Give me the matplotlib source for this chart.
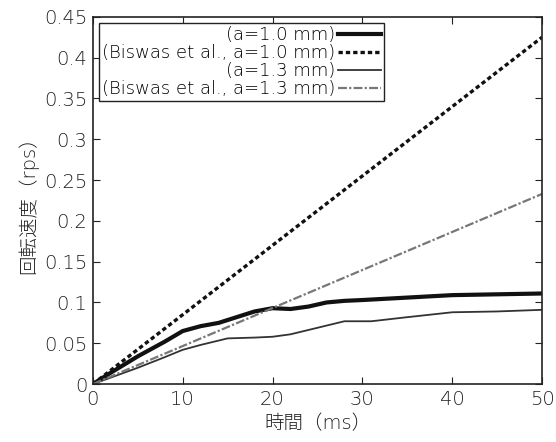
import numpy as np
import matplotlib
matplotlib.use("Agg")
import matplotlib.pyplot as plt

plt.rcParams['font.family'] = ['DejaVu Sans', 'Noto Sans CJK JP']

# measured, a=1.0 mm
t_a10 = [0, 2, 5, 8, 10, 12, 14, 16, 18, 20, 22, 24, 26, 28, 30, 35, 40, 45, 50]
w_a10 = [0, 0.014, 0.034, 0.052, 0.065, 0.071, 0.075, 0.082, 0.089, 0.093,
         0.092, 0.095, 0.100, 0.102, 0.103, 0.106, 0.109, 0.110, 0.111]
# measured, a=1.3 mm
t_a13 = [0, 2, 5, 8, 10, 12, 15, 18, 20, 22, 25, 28, 31, 35, 40, 45, 50]
w_a13 = [0, 0.008, 0.020, 0.033, 0.042, 0.048, 0.056, 0.057, 0.058, 0.061,
         0.069, 0.077, 0.077, 0.082, 0.088, 0.089, 0.091]
# Biswas et al. (linear)
t_bis = [0, 50]
w_bis10 = [0, 0.425]
w_bis13 = [0, 0.233]

labels = ["(a=1.0 mm)", "(Biswas et al., a=1.0 mm)",
          "(a=1.3 mm)", "(Biswas et al., a=1.3 mm)"]

fig = plt.figure(figsize=(5.56, 4.42), dpi=100)
ax = fig.add_axes([0.167, 0.131, 0.808, 0.831])

ax.plot(t_a10, w_a10, color='#111111', lw=3.0, label=labels[0])
ax.plot(t_bis, w_bis10, color='#111111', lw=2.4, ls=(0, (1.3, 0.9)), label=labels[1])
ax.plot(t_a13, w_a13, color='#333333', lw=1.3, label=labels[2])
ax.plot(t_bis, w_bis13, color='#777777', lw=1.6, ls=(0, (4, 1, 1, 1)), label=labels[3])

ax.set_xlim(0, 50)
ax.set_ylim(0, 0.45)
ax.set_xticks([0, 10, 20, 30, 40, 50])
ax.set_yticks(np.arange(0, 0.451, 0.05))
ax.set_yticklabels(['0', '0.05', '0.1', '0.15', '0.2', '0.25', '0.3', '0.35', '0.4', '0.45'])
ax.tick_params(direction='in', top=True, right=True, labelsize=14, length=5,
               colors='#222222', pad=4)
for lab in ax.get_xticklabels() + ax.get_yticklabels():
    lab.set_fontweight('light')
for s in ax.spines.values():
    s.set_linewidth(1.2)
    s.set_color('#222222')

ax.set_xlabel('時間（ms）', fontsize=14, color='#222222', fontweight='light')
ax.set_ylabel('回転速度（rps）', fontsize=14, color='#222222', fontweight='light')

leg = ax.legend(loc='upper left', markerfirst=False,
                prop={'size': 13, 'weight': 'light'},
                frameon=True, fancybox=False, edgecolor='#222222', framealpha=1,
                handlelength=2.4, handletextpad=0.15, labelspacing=0.0,
                borderpad=0.15, borderaxespad=0.35)
leg.get_frame().set_linewidth(1.0)

fig.savefig('out.png', dpi=100)
